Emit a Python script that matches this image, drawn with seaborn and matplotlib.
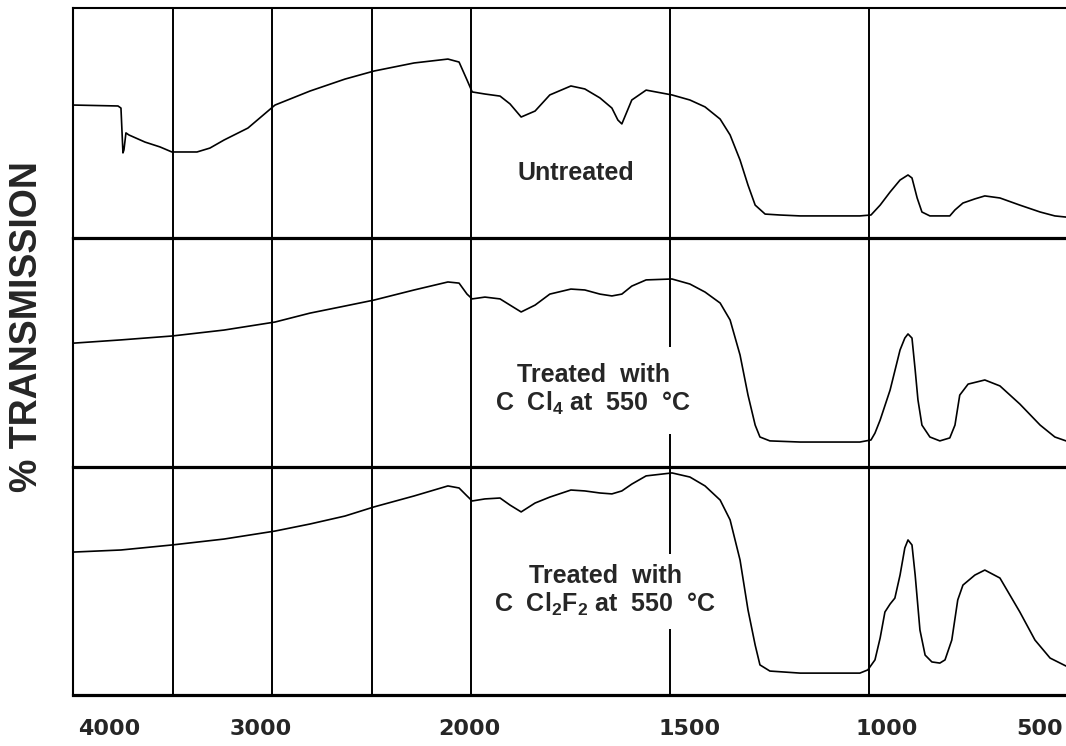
import numpy as np
import pandas as pd
import matplotlib
matplotlib.use("Agg")
import matplotlib.pyplot as plt
import matplotlib.transforms as mtransforms
import seaborn as sns

# ---------------- data (wavenumber cm^-1, % transmission within each panel) -------------
wn_untreated = [3995, 3774, 3759, 3749, 3744, 3734, 3719, 3638, 3563, 3503, 3377, 3312, 3241,
                3121, 2985, 2809, 2633, 2487, 2286, 2116, 2060, 2020, 1997, 1965, 1927, 1902,
                1874, 1839, 1802, 1749, 1714, 1676, 1646, 1631, 1621, 1596, 1560, 1495, 1450,
                1412, 1374, 1349, 1324, 1304, 1286, 1261, 1224, 1173, 1023, 995, 972, 947,
                922, 902, 892, 879, 867, 847, 797, 784, 764, 734, 709, 671, 621, 570, 533, 505]
t_untreated = [57.8, 57.4, 56.5, 37.0, 38.3, 45.7, 44.8, 41.7, 39.6, 37.4, 37.4, 39.1, 42.6,
               47.8, 57.8, 63.9, 69.1, 72.6, 76.1, 77.8, 76.5, 68.7, 63.5, 62.6, 61.7, 58.3,
               52.6, 55.2, 62.2, 66.1, 64.8, 60.9, 56.5, 51.3, 49.6, 60.0, 64.3, 62.2, 60.0,
               57.0, 51.7, 44.8, 33.9, 23.0, 14.3, 10.4, 10.0, 9.6, 9.6, 10.0, 14.3, 20.0,
               25.2, 27.4, 26.1, 17.4, 11.3, 9.6, 9.6, 12.2, 15.2, 17.0, 18.3, 17.4, 14.3,
               11.3, 9.6, 9.1]

wn_ccl4 = [3995, 3759, 3503, 3241, 2985, 2809, 2633, 2487, 2286, 2116, 2060, 2020, 1997, 1965,
           1927, 1902, 1874, 1839, 1802, 1749, 1714, 1676, 1646, 1621, 1596, 1560, 1495, 1450,
           1412, 1374, 1349, 1324, 1304, 1286, 1274, 1249, 1173, 1023, 995, 985, 972, 947,
           922, 910, 902, 892, 884, 877, 867, 847, 822, 797, 784, 772, 751, 709, 671, 621,
           570, 533, 505]
t_ccl4 = [54.1, 55.5, 57.2, 59.8, 63.3, 67.2, 70.3, 72.9, 77.3, 80.8, 80.3, 75.5, 73.4, 74.2,
          73.4, 70.7, 67.7, 70.7, 75.5, 77.7, 77.3, 75.5, 74.7, 75.5, 79.0, 81.7, 82.1, 79.9,
          76.4, 71.6, 64.2, 48.9, 31.4, 18.3, 13.1, 11.4, 10.9, 10.9, 11.8, 14.8, 20.5, 33.6,
          51.1, 56.3, 58.1, 56.3, 42.4, 29.3, 18.3, 13.1, 11.4, 12.7, 18.3, 31.4, 36.2, 38.0,
          35.4, 27.5, 18.3, 13.1, 11.4]

wn_ccl2f2 = [3995, 3759, 3503, 3241, 2985, 2809, 2633, 2487, 2286, 2116, 2060, 2020, 1997,
             1965, 1927, 1902, 1874, 1839, 1802, 1749, 1714, 1676, 1646, 1621, 1596, 1560,
             1495, 1450, 1412, 1374, 1349, 1324, 1304, 1286, 1274, 1249, 1173, 1023, 1003,
             985, 972, 960, 947, 935, 922, 910, 902, 892, 884, 872, 859, 842, 822, 809, 792,
             777, 764, 734, 709, 671, 621, 583, 545, 505]
t_ccl2f2 = [62.7, 63.6, 65.8, 68.4, 71.9, 75.0, 78.5, 82.5, 87.3, 91.7, 90.8, 87.3, 85.1,
            86.0, 86.4, 83.3, 80.3, 84.2, 86.8, 89.9, 89.5, 88.6, 88.2, 89.5, 92.5, 96.1,
            97.4, 95.6, 91.7, 85.5, 76.8, 59.2, 37.3, 21.9, 13.2, 10.5, 9.6, 9.6, 11.0,
            15.4, 25.0, 36.4, 39.9, 42.5, 52.6, 64.5, 68.0, 65.8, 52.6, 28.5, 17.5, 14.5,
            14.0, 15.4, 24.1, 41.7, 48.2, 52.6, 54.8, 51.3, 36.4, 24.1, 16.2, 12.7]

tick_values = [4000, 3000, 2000, 1500, 1000, 500]
tick_labels = ["4000", "3000", "2000", "1500", "1000", "500"]
grid_values = [3500, 3000, 2500, 2000, 1500, 1000]

panel_labels = ["Untreated",
                "Treated  with\nC  Cl$_4$ at  550  °C",
                "Treated  with\nC  Cl$_2$F$_2$ at  550  °C"]
label_pos_wn = [1736, 1693, 1663]
label_pos_t = [28.3, 33.6, 45.6]

series = [(wn_untreated, t_untreated), (wn_ccl4, t_ccl4), (wn_ccl2f2, t_ccl2f2)]

# ---------------- style -------------
sns.set_style("white")
plt.rcParams["font.family"] = ["Liberation Sans", "DejaVu Sans"]
plt.rcParams["mathtext.fontset"] = "custom"
plt.rcParams["mathtext.rm"] = "Liberation Sans:bold"
plt.rcParams["mathtext.it"] = "Liberation Sans:bold"
plt.rcParams["mathtext.bf"] = "Liberation Sans:bold"


# spectrometer chart: scale doubles below 2000 cm^-1
def fwd(w):
    w = np.asarray(w, dtype=float)
    return np.where(w >= 2000, w, 2 * w - 2000)


def inv(v):
    v = np.asarray(v, dtype=float)
    return np.where(v >= 2000, v, (v + 2000) / 2)


W, H = 1066, 746
fig = plt.figure(figsize=(W / 100, H / 100), dpi=100)
left = 73 / W
width = (1068 - 73) / W
bounds = [8, 238, 467, 695]
axes = []
for i in range(3):
    top_px, bot_px = bounds[i], bounds[i + 1]
    ax = fig.add_axes([left, 1 - bot_px / H, width, (bot_px - top_px) / H])
    ax.set_facecolor("none")
    axes.append(ax)

for i, ax in enumerate(axes):
    ax.set_xscale("function", functions=(fwd, inv))
    wn, tt = series[i]
    df = pd.DataFrame({"wn": wn, "T": tt})
    sns.lineplot(data=df, x="wn", y="T", ax=ax, color="black", linewidth=1.2,
                 estimator=None, sort=False, zorder=3)
    for g in grid_values:
        ax.axvline(g, color="black", linewidth=1.4, zorder=2)
    ax.set_xlim(4000, 500)
    ax.set_ylim(0, 100)
    ax.set_xlabel("")
    ax.set_ylabel("")
    ax.set_yticks([])
    ax.spines["right"].set_visible(False)
    ax.spines["left"].set_linewidth(1.5)
    ax.spines["left"].set_color("black")
    ax.spines["bottom"].set_linewidth(2.3)
    ax.spines["bottom"].set_color("black")
    if i == 0:
        ax.spines["top"].set_linewidth(1.5)
        ax.spines["top"].set_color("black")
    else:
        ax.spines["top"].set_visible(False)
    pad = [4, 12, 8][i]
    ax.text(label_pos_wn[i], label_pos_t[i], panel_labels[i], ha="center", va="center",
            multialignment="center", fontsize=18, fontweight="bold",
            linespacing=1.15, zorder=5,
            bbox=dict(facecolor="white", edgecolor="none", pad=pad))
    if i < 2:
        ax.set_xticks([])
        ax.minorticks_off()

ax3 = axes[2]
ax3.set_xticks(tick_values)
ax3.set_xticklabels(tick_labels)
ax3.minorticks_off()
ax3.tick_params(axis="x", length=0, pad=17)
offsets_px = [36, -11, -2, 20, 18, -28]
for lab, dx in zip(ax3.get_xticklabels(), offsets_px):
    lab.set_fontfamily("DejaVu Sans")
    lab.set_fontweight("bold")
    lab.set_fontsize(16)
    lab.set_transform(lab.get_transform() +
                      mtransforms.ScaledTranslation(dx / 100, 0, fig.dpi_scale_trans))

fig.text(27 / W, 1 - 327 / H, "% TRANSMISSION", rotation=90, ha="center", va="center",
         fontsize=27, fontweight="bold", family="Liberation Sans")

fig.savefig("out.png", dpi=100, facecolor="white")
